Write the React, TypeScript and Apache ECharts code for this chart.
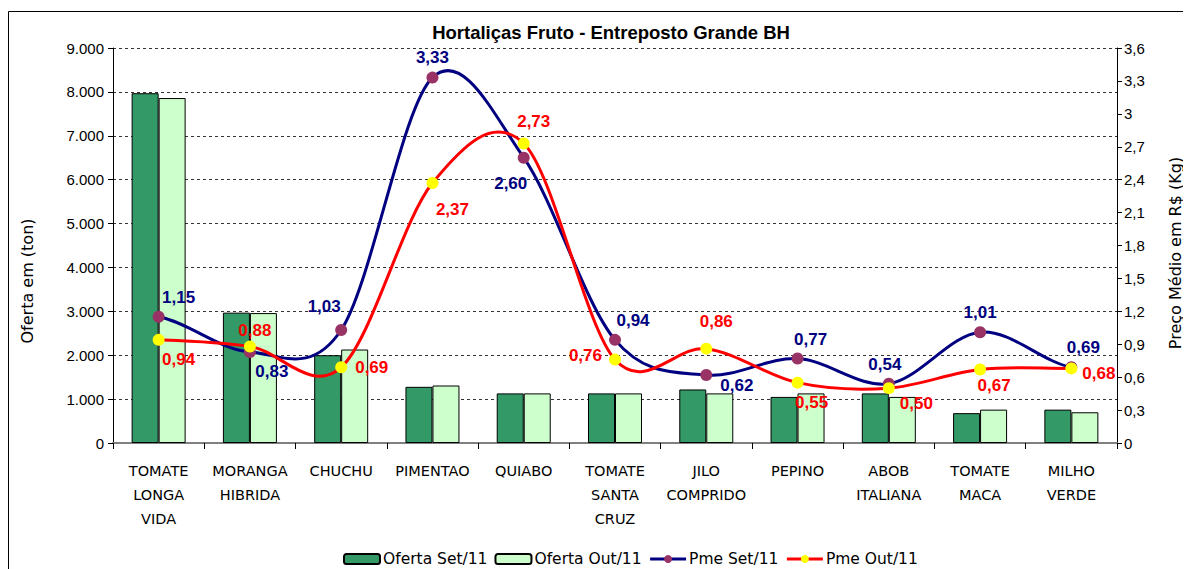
import React, { useEffect, useRef } from "react";
import * as echarts from "echarts";

const categories = [
  "TOMATE\nLONGA\nVIDA",
  "MORANGA\nHIBRIDA",
  "CHUCHU",
  "PIMENTAO",
  "QUIABO",
  "TOMATE\nSANTA\nCRUZ",
  "JILO\nCOMPRIDO",
  "PEPINO",
  "ABOB\nITALIANA",
  "TOMATE\nMACA",
  "MILHO\nVERDE",
];
const ofertaSet = [7970, 2970, 2000, 1280, 1130, 1130, 1220, 1050, 1130, 680, 760];
const ofertaOut = [7860, 2960, 2130, 1310, 1130, 1130, 1130, 1130, 1050, 760, 700];
const pmeSet = [1.15, 0.83, 1.03, 3.33, 2.6, 0.94, 0.62, 0.77, 0.54, 1.01, 0.69];
const pmeOut = [0.94, 0.88, 0.69, 2.37, 2.73, 0.76, 0.86, 0.55, 0.5, 0.67, 0.68];

const seriesNames = ["Oferta Set/11", "Oferta Out/11", "Pme Set/11", "Pme Out/11"];
const leftTicks = { min: 0, max: 9000, interval: 1000 };
const rightTicks = { min: 0, max: 3.6, interval: 0.3 };

// label placement (style only)
const setLabelPos: [string, number[]][] = [
  ["top", [20, 0]],
  ["bottom", [22, 0]],
  ["top", [-17, -4]],
  ["top", [0, -1]],
  ["bottom", [-13, 6]],
  ["top", [18, 0]],
  ["right", [3, 11]],
  ["top", [13, 0]],
  ["top", [-4, 0]],
  ["top", [0, 0]],
  ["top", [12, 0]],
];
const outLabelPos: [string, number[]][] = [
  ["bottom", [20, 0]],
  ["top", [5, 4]],
  ["right", [3, 0]],
  ["bottom", [20, 7]],
  ["top", [10, -2]],
  ["left", [-2, -4]],
  ["top", [10, -8]],
  ["bottom", [14, 0]],
  ["right", [0, 15]],
  ["bottom", [14, -3]],
  ["right", [0, 5]],
];

const fmtPrice = (v: number) => v.toFixed(2).replace(".", ",");

// Excel-like smoothed curve: one bezier segment per data interval
const mkCurve = (vals: number[], color: string, name: string) => ({
  name,
  type: "custom",
  yAxisIndex: 1,
  z: 4,
  silent: true,
  data: vals.map((v, i) => [i, v]),
  encode: { x: 0, y: 1 },
  renderItem: (params: any, api: any) => {
    const i = params.dataIndex;
    const n = vals.length;
    if (i >= n - 1) return { type: "group", children: [] };
    const p = (k: number) => api.coord([k, vals[Math.max(0, Math.min(n - 1, k))]]);
    const p0 = p(i - 1);
    const p1 = p(i);
    const p2 = p(i + 1);
    const p3 = p(i + 2);
    const t = 1 / 6;
    return {
      type: "bezierCurve",
      shape: {
        x1: p1[0],
        y1: p1[1],
        x2: p2[0],
        y2: p2[1],
        cpx1: p1[0] + (p2[0] - p0[0]) * t,
        cpy1: p1[1] + (p2[1] - p0[1]) * t,
        cpx2: p2[0] - (p3[0] - p1[0]) * t,
        cpy2: p2[1] - (p3[1] - p1[1]) * t,
      },
      style: { stroke: color, lineWidth: 3, fill: null, lineCap: "round" },
    };
  },
});

export default function App() {
  const ref = useRef<HTMLDivElement>(null);
  useEffect(() => {
    document.body.style.overflow = "hidden";
    if (!ref.current) return;
    const chart = echarts.init(ref.current, null, { renderer: "svg" });
    const labelFont = { fontFamily: "Liberation Sans", fontWeight: "bold", fontSize: 17 };
    const mkLine = (vals: number[], pos: [string, number[]][], color: string, lineColor: string, markerColor: string, name: string) => ({
      name,
      type: "line",
      yAxisIndex: 1,
      symbol: "circle",
      symbolSize: 12,
      z: 5,
      lineStyle: { color: lineColor, width: 3, opacity: 0 },
      itemStyle: { color: markerColor, borderWidth: 0 },
      data: vals.map((v, i) => ({
        value: v,
        label: { position: pos[i][0], offset: pos[i][1] },
      })),
      label: {
        show: true,
        color,
        ...labelFont,
        distance: 5,
        formatter: (p: any) => fmtPrice(p.value),
      },
    });
    chart.setOption({
      animation: false,
      backgroundColor: "#ffffff",
      title: {
        text: "Hortaliças Fruto - Entreposto Grande BH",
        left: 598,
        top: 10,
        textAlign: "center",
        textStyle: { fontFamily: "Liberation Sans", fontWeight: "bold", fontSize: 18.5, color: "#000" },
      },
      graphic: [
        {
          type: "rect",
          shape: { x: 0.5, y: 3.5, width: 3000, height: 3000 },
          style: { fill: "none", stroke: "#000", lineWidth: 1 },
          silent: true,
        },
        {
          type: "text",
          x: 19,
          y: 273,
          rotation: Math.PI / 2,
          style: {
            text: "Oferta em (ton)",
            fontFamily: "DejaVu Sans",
            fontSize: 16,
            fill: "#000",
            align: "center",
            verticalAlign: "middle",
          },
        },
        {
          type: "text",
          x: 1167,
          y: 245,
          rotation: Math.PI / 2,
          style: {
            text: "Preço Médio em R$ (Kg)",
            fontFamily: "DejaVu Sans",
            fontSize: 16,
            fill: "#000",
            align: "center",
            verticalAlign: "middle",
          },
        },
      ],
      legend: {
        data: [
          seriesNames[0],
          seriesNames[1],
          { name: seriesNames[2], lineStyle: { opacity: 1, width: 3, color: "#000080" } },
          { name: seriesNames[3], lineStyle: { opacity: 1, width: 3, color: "#FF0000" } },
        ],
        left: 330,
        top: 538,
        itemWidth: 36,
        itemHeight: 10,
        itemGap: 7,
        textStyle: { fontFamily: "DejaVu Sans", fontSize: 15.5, color: "#000", padding: [0, 0, 0, -2] },
      },
      grid: { left: 105, right: 74, top: 40, height: 395 },
      xAxis: {
        type: "category",
        data: categories,
        axisLine: { lineStyle: { color: "#808080", width: 2 } },
        axisTick: { show: true, length: 6, lineStyle: { color: "#000" } },
        axisLabel: {
          interval: 0,
          margin: 16,
          lineHeight: 24,
          fontFamily: "DejaVu Sans",
          fontSize: 14.5,
          color: "#000",
        },
      },
      yAxis: [
        {
          type: "value",
          ...leftTicks,
          axisLine: { show: true, lineStyle: { color: "#000" } },
          axisTick: { show: true, length: 5, lineStyle: { color: "#000" } },
          axisLabel: {
            margin: 9,
            fontFamily: "Liberation Sans",
            fontSize: 15,
            color: "#000",
            formatter: (v: number) => (v === 0 ? "0" : (v / 1000).toFixed(3)),
          },
          splitLine: { show: true, lineStyle: { color: "#333", type: [3, 3], width: 1 } },
        },
        {
          type: "value",
          ...rightTicks,
          position: "right",
          axisLine: { show: true, lineStyle: { color: "#000" } },
          axisTick: { show: true, length: 5, lineStyle: { color: "#000" } },
          axisLabel: {
            margin: 7,
            fontFamily: "Liberation Sans",
            fontSize: 15,
            color: "#000",
            formatter: (v: number) => String(Number(v.toFixed(1))).replace(".", ","),
          },
          splitLine: { show: false },
        },
      ],
      series: [
        {
          name: seriesNames[0],
          type: "bar",
          barWidth: 27,
          barGap: "0%",
          data: ofertaSet,
          itemStyle: { color: "#339966", borderColor: "#000", borderWidth: 1 },
        },
        {
          name: seriesNames[1],
          type: "bar",
          barWidth: 27,
          barGap: "0%",
          data: ofertaOut,
          itemStyle: { color: "#CCFFCC", borderColor: "#000", borderWidth: 1 },
        },
        mkCurve(pmeSet, "#000080", "curveSet"),
        mkCurve(pmeOut, "#FF0000", "curveOut"),
        mkLine(pmeSet, setLabelPos, "#000080", "#000080", "#993366", seriesNames[2]),
        mkLine(pmeOut, outLabelPos, "#FF0000", "#FF0000", "#FFFF00", seriesNames[3]),
      ],
    });
    return () => chart.dispose();
  }, []);
  return <div ref={ref} style={{ width: 1183, height: 561 }} />;
}
